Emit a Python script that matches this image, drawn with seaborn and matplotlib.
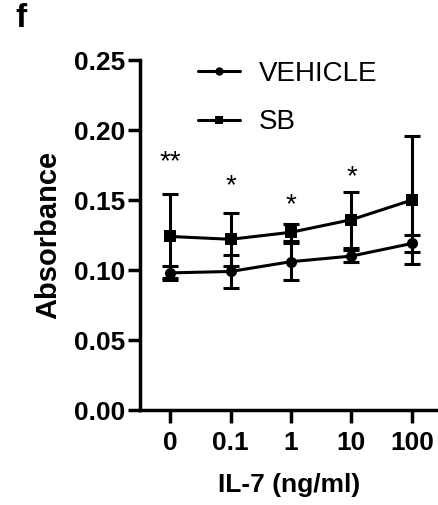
import numpy as np
import pandas as pd
import matplotlib
matplotlib.use("Agg")
import matplotlib.pyplot as plt
import seaborn as sns

# data (mean +/- SD)
doses = ["0", "0.1", "1", "10", "100"]
vehicle_mean = [0.098, 0.099, 0.106, 0.110, 0.119]
vehicle_sd = [0.005, 0.012, 0.013, 0.004, 0.006]
sb_mean = [0.124, 0.122, 0.127, 0.136, 0.150]
sb_sd = [0.030, 0.019, 0.006, 0.020, 0.046]
stars = ["**", "*", "*", "*", ""]
star_y = [0.177, 0.160, 0.146, 0.166, 0.0]

sns.set_style("ticks")
plt.rcParams["font.family"] = ["Liberation Sans", "DejaVu Sans"]
plt.rcParams["text.color"] = "black"
plt.rcParams["xtick.color"] = "black"
plt.rcParams["ytick.color"] = "black"
plt.rcParams["axes.labelcolor"] = "black"
plt.rcParams["axes.edgecolor"] = "black"

df = pd.DataFrame({
    "dose": doses * 2,
    "absorbance": vehicle_mean + sb_mean,
    "group": ["VEHICLE"] * 5 + ["SB"] * 5,
})

fig = plt.figure(figsize=(4.39, 5.05), dpi=100)
ax = fig.add_axes([0.319, 0.188, 0.681, 0.693])

sns.lineplot(data=df, x="dose", y="absorbance", hue="group", style="group",
             markers={"VEHICLE": "o", "SB": "s"}, dashes=False,
             palette={"VEHICLE": "black", "SB": "black"},
             linewidth=2.2, markersize=8, markeredgewidth=0, ax=ax)

xs = np.arange(len(doses))
ax.errorbar(xs, vehicle_mean, yerr=vehicle_sd, fmt="none", ecolor="black",
            elinewidth=2.2, capsize=6, capthick=2.2)
ax.errorbar(xs, sb_mean, yerr=sb_sd, fmt="none", ecolor="black",
            elinewidth=2.2, capsize=6, capthick=2.2)

for x, s, y in zip(xs, stars, star_y):
    if s:
        ax.text(x, y, s, ha="center", va="center", fontsize=20)

ax.set_xlim(-0.5, 4.45)
ax.set_ylim(0, 0.25)
ax.set_yticks([0, 0.05, 0.10, 0.15, 0.20, 0.25])
ax.set_yticklabels(["0.00", "0.05", "0.10", "0.15", "0.20", "0.25"])
ax.set_xticks(xs)
ax.set_xticklabels(doses)
for lab in ax.get_xticklabels() + ax.get_yticklabels():
    lab.set_fontweight("bold")
ax.tick_params(axis="both", labelsize=19, width=2.5, length=9, pad=2)
ax.tick_params(axis="x", pad=6)
ax.set_xlabel("IL-7 (ng/ml)", fontsize=19, fontweight="bold", labelpad=13)
ax.set_ylabel("Absorbance", fontsize=21, fontweight="bold", labelpad=8)

sns.despine(ax=ax)
for sp in ["left", "bottom"]:
    ax.spines[sp].set_linewidth(2.5)

leg = ax.legend(loc="upper left", bbox_to_anchor=(198 / 439, 1 - 61 / 505),
                bbox_transform=fig.transFigure, frameon=False,
                borderpad=0, borderaxespad=0, fontsize=20,
                handlelength=1.5, handletextpad=0.7, labelspacing=0.8)
for h in leg.legend_handles:
    h.set_linewidth(2.2)
    h.set_markersize(6)

fig.text(0.035, 0.995, "f", fontsize=24, fontweight="bold", va="top")

fig.savefig("out.png", dpi=100)
